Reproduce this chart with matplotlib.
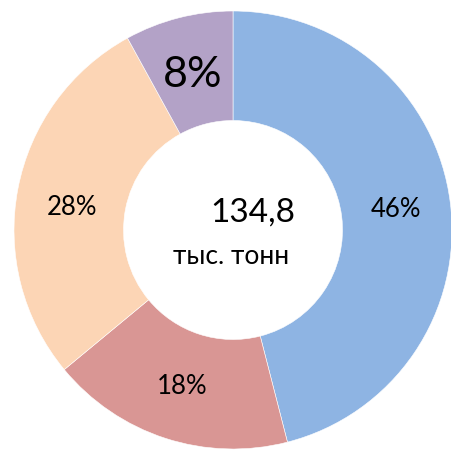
import matplotlib
matplotlib.use("Agg")
import matplotlib.pyplot as plt
import numpy as np

values = [46, 18, 28, 8]
labels = ["46%", "18%", "28%", "8%"]
colors = ["#8EB4E3", "#D99694", "#FCD5B5", "#B3A2C7"]
label_sizes = [18.5, 18.5, 18.5, 31]
center_value = "134,8"
center_unit = "тыс. тонн"

plt.rcParams['font.family'] = ['Lato', 'DejaVu Sans']

W, H = 452, 451
fig = plt.figure(figsize=(W / 100, H / 100), dpi=100)
ax = fig.add_axes([0, 0, 1, 1])
cx, cy, R = 233, 230, 219

wedges, _ = ax.pie(values, colors=colors, startangle=90, counterclock=False,
                   radius=1.0, wedgeprops=dict(width=0.5, edgecolor='white', linewidth=0.4))

offsets = [(0, 0), (0, 0), (0, -8), (0, -4)]
for w, lab, fs, (ox, oy) in zip(wedges, labels, label_sizes, offsets):
    ang = np.deg2rad((w.theta1 + w.theta2) / 2)
    r = 0.75
    ax.text(r * np.cos(ang) + ox / R, r * np.sin(ang) + oy / R, lab, ha='center', va='center',
            fontsize=fs, color='black')

ax.text(20 / R, 17 / R, center_value, ha='center', va='center', fontsize=24)
ax.text(-2 / R, -27 / R, center_unit, ha='center', va='center', fontsize=19)

ax.set_xlim(-cx / R, (W - cx) / R)
ax.set_ylim(-(H - cy) / R, cy / R)
ax.set_aspect('auto')
ax.axis('off')
fig.savefig("out.png", dpi=100)
